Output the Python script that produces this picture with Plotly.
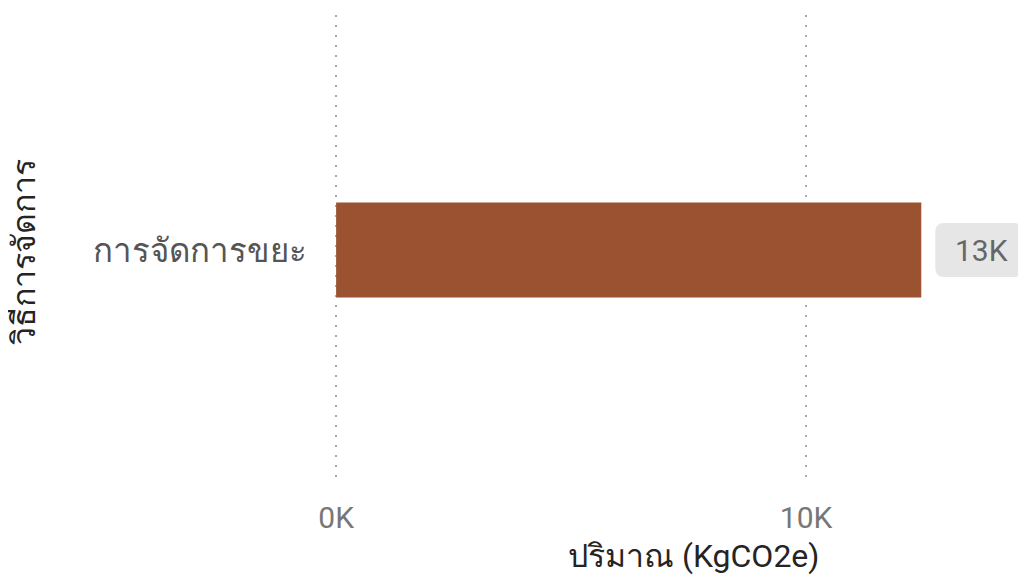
import plotly.graph_objects as go

categories = ["การจัดการขยะ"]
values = [12450]
value_labels = ["13K"]
x_tick_vals = [0, 10000]
x_tick_text = ["0K", "10K"]
x_title = "ปริมาณ (KgCO2e)"
y_title = "วิธีการจัดการ"

FONT = "Roboto, Noto Sans, DejaVu Sans, sans-serif"

fig = go.Figure()
fig.add_trace(go.Bar(
    y=categories, x=values, orientation="h",
    marker=dict(color="#9A5230", line=dict(width=0)),
    width=0.202, hoverinfo="skip",
))

# rounded grey box behind the data label (pixel-sized, anchored at the bar end)
def rounded_rect(x0, x1, y0, y1, r):
    return (f"M {x0+r},{y0} L {x1-r},{y0} Q {x1},{y0} {x1},{y0+r} "
            f"L {x1},{y1-r} Q {x1},{y1} {x1-r},{y1} L {x0+r},{y1} "
            f"Q {x0},{y1} {x0},{y1-r} L {x0},{y0+r} Q {x0},{y0} {x0+r},{y0} Z")

for c, v, t in zip(categories, values, value_labels):
    fig.add_shape(
        type="path", xref="x", yref="y", xsizemode="pixel", ysizemode="pixel",
        xanchor=v, yanchor=c, path=rounded_rect(14, 101, -27, 27, 9),
        fillcolor="#E6E6E6", line=dict(width=0), layer="below",
    )
    fig.add_annotation(
        x=v, y=c, xref="x", yref="y", text=t, showarrow=False,
        xanchor="center", xshift=60,
        font=dict(family=FONT, size=30, color="#666666"),
    )

fig.add_annotation(
    x=0.519, y=-0.15, xref="paper", yref="paper", text=x_title, showarrow=False,
    xanchor="center", yanchor="middle",
    font=dict(family=FONT, size=32, color="#252423"),
)
fig.add_annotation(
    x=-0.447, y=0.495, xref="paper", yref="paper", text=y_title, showarrow=False,
    textangle=-90, xanchor="center", yanchor="middle",
    font=dict(family=FONT, size=32, color="#252423"),
)

# the page body adds an 8px offset; sizes/margins compensate for it
fig.update_layout(
    width=1018, height=576,
    margin=dict(l=326, r=0, t=7, b=99, autoexpand=False),
    paper_bgcolor="white", plot_bgcolor="white",
    showlegend=False,
    xaxis=dict(
        range=[-45, 14678], tickvals=x_tick_vals, ticktext=x_tick_text,
        showgrid=True, gridcolor="#A8A8A8", griddash="2px,8px", gridwidth=1.5,
        zeroline=False, showline=False,
        ticks="outside", ticklen=6, tickcolor="rgba(0,0,0,0)",
        tickfont=dict(family=FONT, size=30, color="#777777"),
        fixedrange=True, automargin=False,
    ),
    yaxis=dict(
        showgrid=False, zeroline=False, showline=False,
        ticks="outside", ticklen=19, tickcolor="rgba(0,0,0,0)",
        tickfont=dict(family=FONT, size=33, color="#555555"),
        range=[-0.5, 0.5], fixedrange=True, automargin=False,
    ),
)

fig.write_html("out.html")
